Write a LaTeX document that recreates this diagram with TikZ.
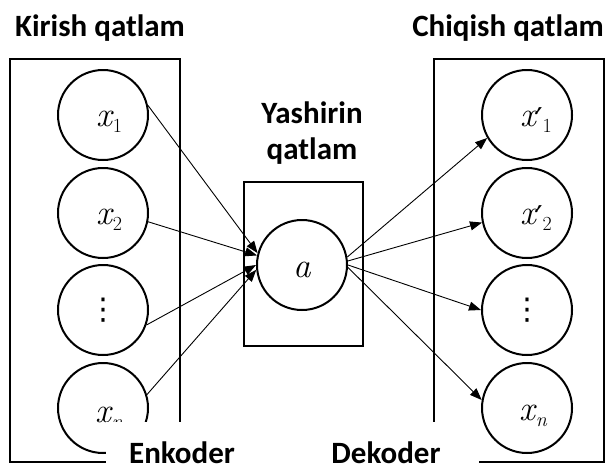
\documentclass[tikz,border=0pt]{standalone}
\usepackage{fontspec}
\setmainfont{Carlito}
\newfontfamily\lmfont{Latin Modern Roman}
\newfontfamily\primefont{DejaVu Serif}
\newfontfamily\dotsfont{DejaVu Sans}
\usetikzlibrary{arrows.meta}
% variable with a lowered index, set as text
\newcommand{\varidx}[2]{{\lmfont\itshape #1}\kern1pt\raisebox{-6pt}{\fontsize{20}{20}\selectfont\lmfont #2}}
\newcommand{\primed}{{\primefont\fontsize{30}{30}\selectfont\raisebox{-3pt}{′}}}
% vertical ellipsis
\newcommand{\stackdots}{{\dotsfont\fontsize{30}{30}\selectfont ⋮}}
\begin{document}
\begin{tikzpicture}[x=1pt,y=-1pt,
  frame/.style={draw, line width=2.6pt},
  neuron/.style={circle, draw, line width=2pt, minimum size=90pt, inner sep=0pt},
  conn/.style={line width=0.9pt, -{Triangle[length=12pt,width=9pt]}},
  title/.style={font=\fontsize{31}{37}\selectfont\bfseries, anchor=base, inner sep=0pt},
  sym/.style={font=\fontsize{35}{40}\selectfont, inner sep=0pt, anchor=base}]
\useasboundingbox (0,0) rectangle (609,466);

% layer frames
\draw[frame] (10,59) rectangle (180,462);
\draw[frame] (244,182) rectangle (363,346);
\draw[frame] (434,59) rectangle (604,462);

% input neurons
\node[neuron] (x1) at (103,115) {};
\node[neuron] (x2) at (103,213) {};
\node[neuron] (xd) at (103,310) {};
\node[neuron] (xn) at (103,408) {};
\node[sym] (x1t) at ([xshift=6pt,yshift=-11pt]x1.center) {\varidx{x}{1}};
\node[sym] (x2t) at ([xshift=6pt,yshift=-11pt]x2.center) {\varidx{x}{2}};
\node[sym, anchor=center] (xdt) at (xd.center) {\stackdots};
\node[sym] (xnt) at ([xshift=6pt,yshift=-14pt]xn.center) {\varidx{x}{\itshape n}};

% hidden neuron
\node[neuron] (a) at (302,265) {};
\node[sym] (at) at ([yshift=-12pt]a.center) {\lmfont\itshape a};

% output neurons
\node[neuron] (y1) at (527,115) {};
\node[neuron] (y2) at (527,213) {};
\node[neuron] (yd) at (527,310) {};
\node[neuron] (yn) at (527,408) {};
\node[sym] (y1t) at ([xshift=9pt,yshift=-11pt]y1.center) {{\lmfont\itshape x}\primed\raisebox{-6pt}{\fontsize{20}{20}\selectfont\lmfont 1}};
\node[sym] (y2t) at ([xshift=9pt,yshift=-11pt]y2.center) {{\lmfont\itshape x}\primed\raisebox{-6pt}{\fontsize{20}{20}\selectfont\lmfont 2}};
\node[sym, anchor=center] (ydt) at (yd.center) {\stackdots};
\node[sym] (ynt) at ([xshift=6pt,yshift=-12pt]yn.center) {\varidx{x}{\itshape n}};

% encoder connections
\draw[conn] (x1.12) -- (a.165);
\draw[conn] (x2.-11) -- (a.168);
\draw[conn] (xd.-19) -- (a.180);
\draw[conn] (xn.17) -- (a.186);

% decoder connections
\draw[conn] (a.10) -- (y1.210);
\draw[conn] (a.5) -- (y2.192);
\draw[conn] (a.0) -- (yd.180);
\draw[conn] (a.-3) -- (yn.170);

% titles
\node[title] (tin) at (100,36) {Kirish qatlam};
\node[title] (tout) at (508,36) {Chiqish qatlam};
\node[title] (thid1) at (312,123) {Yashirin};
\node[title] (thid2) at (312,159) {qatlam};

% bottom captions on white patches
\fill[white] (106,422) rectangle (258,470);
\fill[white] (293,422) rectangle (479,470);
\node[title] (enc) at (182,463) {Enkoder};
\node[title] (dec) at (386,463) {Dekoder};
\end{tikzpicture}
\end{document}
